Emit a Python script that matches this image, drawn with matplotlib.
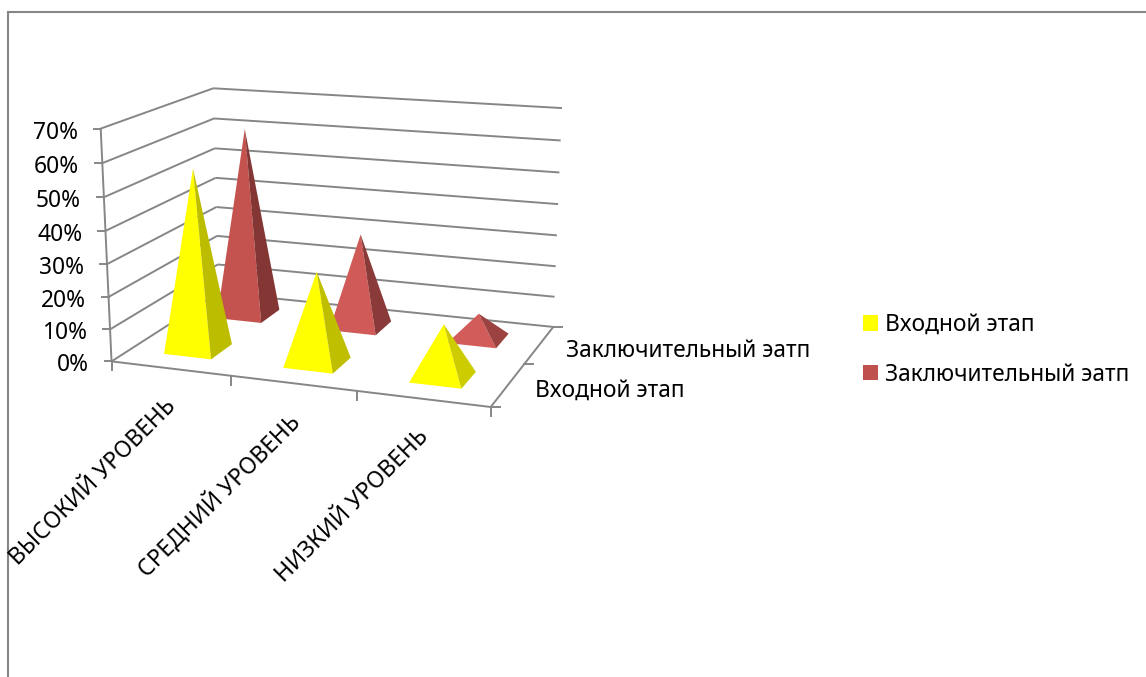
import numpy as np
import matplotlib
matplotlib.use('Agg')
import matplotlib.pyplot as plt
from matplotlib.patches import Patch

plt.rcParams['font.family'] = ['Noto Sans', 'DejaVu Sans']

"""
Chart data
"""
categories = ['ВЫСОКИЙ УРОВЕНЬ', 'СРЕДНИЙ УРОВЕНЬ', 'НИЗКИЙ УРОВЕНЬ']
series_names = ['Входной этап', 'Заключительный эатп']
entry_values = [56, 28, 16]
final_values = [61, 30, 8]
y_ticks = [0, 10, 20, 30, 40, 50, 60, 70]

"""
Shading, each pyramid is lit a little differently
"""
entry_front = ['#FFFF00', '#FFFF00', '#FFFF00']
entry_side = ['#BDBD00', '#BFBF00', '#CCCC00']
final_front = ['#C4524F', '#CF5A57', '#D25C59']
final_side = ['#843634', '#8A3A38', '#9C4341']

line_color = '#868686'
font_size = 16.4
line_width = 1.4

"""
3D view: camera matrix fitted to the corners of the chart box
"""
corners_3d = [(0, 0, 0), (0, 0, 70), (0, 2, 0), (0, 2, 70),
              (3, 2, 0), (3, 2, 70), (3, 0, 0)]
corners_px = [(111, 361), (101, 129), (219, 293), (213, 88),
              (553, 327), (562, 108), (491, 407)]

rows = []
for (u, w, z), (px, py) in zip(corners_3d, corners_px):
    rows.append([u, w, z, 1, 0, 0, 0, 0, -px*u, -px*w, -px*z, -px])
    rows.append([0, 0, 0, 0, u, w, z, 1, -py*u, -py*w, -py*z, -py])
camera = np.linalg.svd(np.array(rows, dtype=float))[2][-1].reshape(3, 4)


def project(u, w, z):
    p = camera @ np.array([u, w, z, 1.0])
    return p[0]/p[2], p[1]/p[2]


fig = plt.figure(figsize=(11.46, 6.77), dpi=100)
ax = fig.add_axes([0, 0, 1, 1])
ax.set_xlim(0, 1146)
ax.set_ylim(677, 0)
ax.axis('off')


def line3d(a, b):
    xa, ya = project(*a)
    xb, yb = project(*b)
    ax.plot([xa, xb], [ya, yb], color=line_color, lw=line_width, zorder=1,
            solid_capstyle='butt')


#Outer chart frame, only left and top are visible in the crop
ax.plot([8, 8, 1146], [677, 12, 12], color=line_color, lw=1.5, zorder=1,
        solid_joinstyle='miter')

#Walls and floor
for t in y_ticks:
    line3d((0, 0, t), (0, 2, t))
    line3d((0, 2, t), (3, 2, t))
    x0, y0 = project(0, 0, t)
    ax.plot([x0-7, x0], [y0, y0], color=line_color, lw=line_width, zorder=1)
    ax.text(x0-23, y0+4, str(t) + '%', ha='right', va='center', fontsize=font_size)
line3d((0, 0, 0), (0, 0, 70))
line3d((0, 0, 0), (3, 0, 0))
line3d((3, 0, 0), (3, 2, 0))

#Ticks on the category axis
for i in range(len(categories) + 1):
    x0, y0 = project(i, 0, 0)
    ax.plot([x0, x0], [y0, y0+9], color=line_color, lw=line_width, zorder=1)

#Ticks on the depth axis
for j in range(len(series_names) + 1):
    x0, y0 = project(3, j, 0)
    ax.plot([x0, x0+9], [y0, y0], color=line_color, lw=line_width, zorder=1)

#Pyramids, back row first so the front row covers it
half = 0.2
rows_back_first = [(1, final_values, final_front, final_side),
                   (0, entry_values, entry_front, entry_side)]
for j, values, fronts, sides in rows_back_first:
    for i, v in enumerate(values):
        uc = i + 0.5
        wc = j + 0.5
        apex = project(uc, wc, v)
        fl = project(uc-half, wc-half, 0)
        fr = project(uc+half, wc-half, 0)
        br = project(uc+half, wc+half, 0)
        ax.fill(*zip(fl, fr, apex), color=fronts[i], lw=0, zorder=3)
        ax.fill(*zip(fr, br, apex), color=sides[i], lw=0, zorder=3)

#Category labels
for i, name in enumerate(categories):
    x0, y0 = project(i + 0.5, 0, 0)
    ax.text(x0-6, y0+26, name, rotation=45, rotation_mode='anchor',
            ha='right', va='top', fontsize=font_size)

#Series labels along the depth axis
for j, name in enumerate(series_names):
    x0, y0 = project(3, j + 0.5, 0)
    ax.text(x0+27, y0+6, name, ha='left', va='center', fontsize=font_size)

handles = [Patch(color='#FFFF00', lw=0), Patch(color='#C0504D', lw=0)]
ax.legend(handles, series_names, loc='upper left', frameon=False,
          bbox_to_anchor=(854/1146, 1-304/677), bbox_transform=ax.transAxes,
          fontsize=font_size, handlelength=0.66, handleheight=0.66,
          handletextpad=0.3, labelspacing=1.12, borderpad=0.4, borderaxespad=0)

fig.savefig('out.png', dpi=100)
